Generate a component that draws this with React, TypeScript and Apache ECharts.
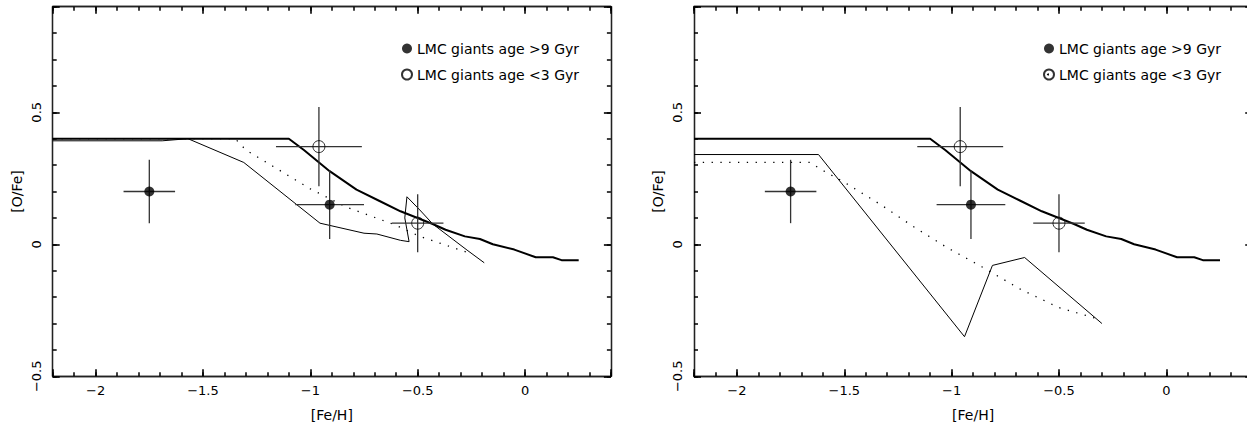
import React, { useEffect, useRef } from "react";
import * as echarts from "echarts";

const OLD_NAME = "LMC giants age >9 Gyr";
const YOUNG_NAME = "LMC giants age <3 Gyr";

// observed points
const oldX = [-1.75, -0.91];
const oldY = [0.2, 0.15];
const oldXErr = [0.12, 0.16];
const oldYErr = [0.12, 0.13];
const youngX = [-0.96, -0.5];
const youngY = [0.37, 0.08];
const youngXErr = [0.2, 0.12];
const youngYErr = [0.15, 0.11];

// thick model (both panels)
const thickModel: [number, number][] = [
  [-2.2, 0.4], [-1.1, 0.4], [-1.03, 0.357], [-0.91, 0.277], [-0.785, 0.207],
  [-0.68, 0.165], [-0.58, 0.125], [-0.43, 0.077], [-0.37, 0.055], [-0.28, 0.03],
  [-0.21, 0.02], [-0.15, 0.0], [-0.05, -0.02], [0.05, -0.049], [0.13, -0.049],
  [0.17, -0.06], [0.25, -0.06],
];

// left panel thin and dotted models
const leftThin: [number, number][] = [
  [-2.2, 0.392], [-1.69, 0.392], [-1.57, 0.4], [-1.31, 0.31], [-0.955, 0.08],
  [-0.75, 0.042], [-0.69, 0.039], [-0.58, 0.015], [-0.54, 0.01], [-0.56, 0.1],
  [-0.55, 0.18], [-0.49, 0.13], [-0.43, 0.077], [-0.27, -0.022], [-0.19, -0.07],
];
const leftDotted: [number, number][] = [
  [-2.2, 0.4], [-1.35, 0.4], [-1.3, 0.357], [-1.0, 0.21], [-0.83, 0.14],
  [-0.61, 0.075], [-0.49, 0.03], [-0.37, -0.003], [-0.27, -0.03],
];

// right panel thin and dotted models
const rightThin: [number, number][] = [
  [-2.2, 0.34], [-1.62, 0.34], [-0.94, -0.35], [-0.81, -0.08], [-0.66, -0.05], [-0.3, -0.3],
];
const rightDotted: [number, number][] = [
  [-2.2, 0.31], [-1.66, 0.31], [-1.6, 0.28], [-1.5, 0.235], [-1.33, 0.15],
  [-1.18, 0.068], [-1.02, -0.013], [-0.86, -0.085], [-0.68, -0.17], [-0.5, -0.24], [-0.33, -0.28],
];

// labelled tick values
const xMajorTicks = [-2, -1.5, -1, -0.5, 0];
const yMajorTicks = [-0.5, 0, 0.5];

const X_MIN = -2.2, X_MAX = 0.4, Y_MIN = -0.5, Y_MAX = 0.9;
const FONT = "'DejaVu Sans', sans-serif";
const AXIS_COLOR = "#000";

const fmt = (v: number) => (v < 0 ? "\u2212" + String(Math.abs(v)) : String(v));
const isMajor = (v: number, list: number[]) => list.some((m) => Math.abs(m - v) < 1e-6);
const labelFor = (list: number[]) => (v: number) => (isMajor(v, list) ? fmt(Math.round(v * 10) / 10) : "");

const line = { show: true, onZero: false, lineStyle: { color: "#222", width: 1.3 } };
const majorTick = { show: true, inside: true, length: 7, lineStyle: { color: AXIS_COLOR, width: 1.6 } };
const minorTick = { show: true, inside: true, length: 4, lineStyle: { color: AXIS_COLOR, width: 1.5 } };

function xAxes(g: number) {
  const base = { type: "value", gridIndex: g, min: X_MIN, max: X_MAX, axisLine: line, splitLine: { show: false } };
  return [
    {
      ...base, position: "bottom", interval: 0.1, axisTick: minorTick,
      axisLabel: { margin: 8, color: "#000", fontSize: 13, fontFamily: FONT, hideOverlap: false, formatter: labelFor(xMajorTicks) },
      name: "[Fe/H]", nameLocation: "middle", nameGap: 32,
      nameTextStyle: { color: "#000", fontSize: 14, fontFamily: FONT },
    },
    { ...base, position: "top", interval: 0.1, axisTick: minorTick, axisLabel: { show: false } },
    { ...base, position: "bottom", minInterval: 0.5, maxInterval: 0.5, axisTick: majorTick, axisLabel: { show: false } },
    { ...base, position: "top", minInterval: 0.5, maxInterval: 0.5, axisTick: majorTick, axisLabel: { show: false } },
  ];
}

function yAxes(g: number) {
  const base = { type: "value", gridIndex: g, min: Y_MIN, max: Y_MAX, axisLine: line, splitLine: { show: false } };
  return [
    {
      ...base, position: "left", interval: 0.1, axisTick: minorTick,
      axisLabel: { margin: 10, rotate: 90, color: "#000", fontSize: 13, fontFamily: FONT, hideOverlap: false, formatter: labelFor(yMajorTicks) },
      name: "[O/Fe]", nameLocation: "middle", nameGap: 29,
      nameTextStyle: { color: "#000", fontSize: 14, fontFamily: FONT },
    },
    { ...base, position: "right", interval: 0.1, axisTick: minorTick, axisLabel: { show: false } },
    { ...base, position: "left", interval: 0.5, axisTick: majorTick, axisLabel: { show: false } },
    { ...base, position: "right", interval: 0.5, axisTick: majorTick, axisLabel: { show: false } },
  ];
}

const zip = (a: number[], b: number[]) => a.map((v, i) => [v, b[i]]);
const zip4 = (a: number[], b: number[], c: number[], d: number[]) => a.map((v, i) => [v, b[i], c[i], d[i]]);

function errRender(params: any, api: any) {
  const x = api.value(0), y = api.value(1), ex = api.value(2), ey = api.value(3);
  const l = api.coord([x - ex, y]);
  const r = api.coord([x + ex, y]);
  const t = api.coord([x, y + ey]);
  const b = api.coord([x, y - ey]);
  const style = { stroke: "#333", lineWidth: 1.3 };
  return {
    type: "group",
    children: [
      { type: "line", shape: { x1: l[0], y1: l[1], x2: r[0], y2: r[1] }, style },
      { type: "line", shape: { x1: t[0], y1: t[1], x2: b[0], y2: b[1] }, style },
    ],
  };
}

function panelSeries(p: number, thin: [number, number][], dotted: [number, number][]) {
  const ax = { xAxisIndex: 4 * p, yAxisIndex: 4 * p };
  return [
    { type: "line", ...ax, data: thickModel, symbol: "none", silent: true, lineStyle: { color: "#000", width: 2 }, z: 2 },
    { type: "line", ...ax, data: thin, symbol: "none", silent: true, lineStyle: { color: "#000", width: 1 }, z: 2 },
    { type: "line", ...ax, data: dotted, symbol: "none", silent: true, lineStyle: { color: "#000", width: 1.3, type: [1.3, 7.5] }, z: 2 },
    {
      type: "custom", ...ax, silent: true, z: 3, renderItem: errRender, encode: { x: 0, y: 1 },
      data: [...zip4(oldX, oldY, oldXErr, oldYErr), ...zip4(youngX, youngY, youngXErr, youngYErr)],
    },
    { type: "scatter", name: OLD_NAME, ...ax, data: zip(oldX, oldY), symbol: "circle", symbolSize: 10, itemStyle: { color: "#000" }, z: 5 },
    {
      type: "scatter", name: YOUNG_NAME, ...ax, data: zip(youngX, youngY), symbol: "circle", symbolSize: 12,
      itemStyle: { color: "rgba(0,0,0,0)", borderColor: "#000", borderWidth: 1 }, z: 5,
    },
  ];
}

const legendBase = {
  orient: "vertical", itemWidth: 10, itemHeight: 10, itemGap: 12, top: 41.5, padding: 0,
  selectedMode: false, data: [OLD_NAME, YOUNG_NAME],
  textStyle: { color: "#000", fontSize: 14, fontFamily: FONT },
};

export default function App() {
  const ref = useRef<HTMLDivElement>(null);
  useEffect(() => {
    if (!ref.current) return;
    const chart = echarts.init(ref.current, null, { renderer: "svg" });
    const gridBase = { top: 6.7, width: 558.2, height: 369.6, containLabel: false, outerBoundsMode: "none" };
    chart.setOption({
      animation: false,
      backgroundColor: "#fff",
      grid: [{ ...gridBase, left: 52.7 }, { ...gridBase, left: 694 }],
      xAxis: [...xAxes(0), ...xAxes(1)],
      yAxis: [...yAxes(0), ...yAxes(1)],
      legend: [{ ...legendBase, left: 401 }, { ...legendBase, left: 1043 }],
      graphic: [
        { type: "circle", shape: { cx: 1048, cy: 74.5, r: 1 }, style: { fill: "#000" }, silent: true },
      ],
      series: [...panelSeries(0, leftThin, leftDotted), ...panelSeries(1, rightThin, rightDotted)],
    } as any);
    return () => chart.dispose();
  }, []);
  return <div ref={ref} style={{ position: "absolute", left: 0, top: 0, width: 1247, height: 434 }} />;
}
